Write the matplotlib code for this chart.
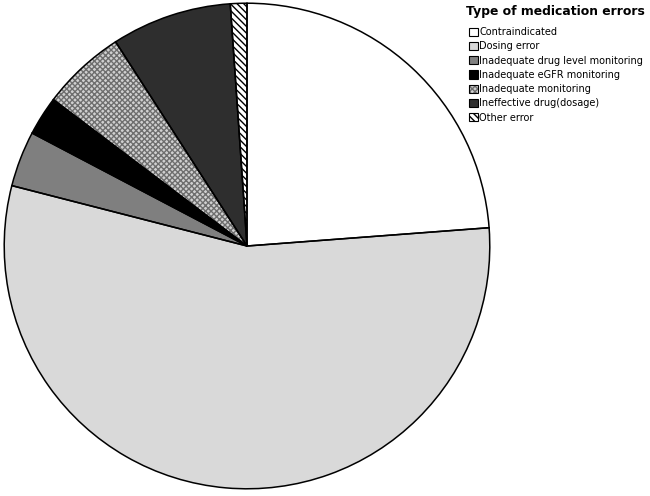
import matplotlib
matplotlib.use("Agg")
import matplotlib.pyplot as plt
from matplotlib.patches import Patch
from matplotlib.legend_handler import HandlerTuple

categories = ["Contraindicated", "Dosing error", "Inadequate drug level monitoring",
              "Inadequate eGFR monitoring", "Inadequate monitoring",
              "Ineffective drug(dosage)", "Other error"]
values = [23.8, 55.2, 3.7, 2.6, 5.6, 8.0, 1.1]
fills = ["white", "#d9d9d9", "#7f7f7f", "black", "#d0d0d0", "#2e2e2e", "white"]
hatches = [None, None, None, None, "xxxxxx", None, "\\\\\\\\\\"]
hatch_colors = ["none", "none", "none", "none", "#6e6e6e", "none", "black"]

fig = plt.figure(figsize=(6.5, 4.96), dpi=100)
ax = fig.add_axes([3/650, 6/496, 488/650, 488/496])
ax.axis("off")

wedges, _ = ax.pie(values, startangle=90, counterclock=False, radius=1.0,
                   colors=fills, wedgeprops=dict(linewidth=0))
for w, h, hc in zip(wedges, hatches, hatch_colors):
    if h:
        w.set_hatch(h)
        w.set_edgecolor(hc)
        w.set_linewidth(0)
ax.pie(values, startangle=90, counterclock=False, radius=1.0,
       colors=["none"] * len(values),
       wedgeprops=dict(linewidth=1.1, edgecolor="black", facecolor="none"))
ax.set_xlim(-1.005, 1.005)
ax.set_ylim(-1.005, 1.005)

handles = []
for f, h, hc in zip(fills, hatches, hatch_colors):
    base = Patch(facecolor=f, edgecolor=hc if h else f, hatch=h, linewidth=0)
    outline = Patch(facecolor="none", edgecolor="black", linewidth=0.8)
    handles.append((base, outline))

fig.text(466/650, 1 - 12/496, "Type of medication errors", fontsize=8.9,
         fontweight="bold", ha="left", va="center")

leg = fig.legend(handles, categories, handler_map={tuple: HandlerTuple(ndivide=1, pad=0)},
                 loc="upper left", bbox_to_anchor=(469/650, 1 - 27/496),
                 frameon=False, fontsize=7,
                 handlelength=0.9, handleheight=0.9, handletextpad=0.15,
                 labelspacing=0.44, borderpad=0.0, borderaxespad=0.0)

fig.savefig("out.png", dpi=100)
